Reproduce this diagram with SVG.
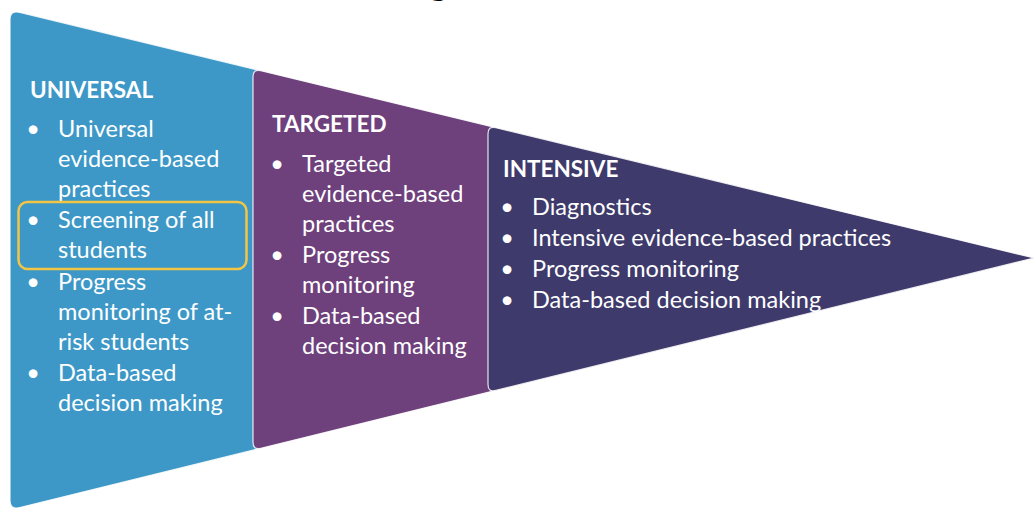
<svg xmlns="http://www.w3.org/2000/svg" width="1034" height="508" viewBox="0 0 1034 508">
<style>
.tier{stroke:#ffffff;stroke-width:1.2;stroke-opacity:0.85}
.blue{fill:#3D98C7}
.purple{fill:#6E417D}
.dark{fill:#3E3A6B}
text{font-family:Lato,"Open Sans","Liberation Sans",sans-serif;fill:#ffffff;font-size:23.5px}
.head{font-weight:bold;font-size:22.5px}
.bul{text-anchor:middle}
.title{fill:#000000;font-size:40px}
.hl{fill:none;stroke:#F2C644;stroke-width:2.5}
</style>
<rect width="1034" height="508" fill="#ffffff"/>
<text class="title" x="428" y="-6">g</text>
<g id="universal">
<path class="tier blue" d="M10,20 Q10,10 19.7,12.35 L262,71 L262,448 L19.8,507.6 Q10,510 10,500 Z"/>
<text class="head" x="30" y="98">UNIVERSAL</text>
<text class="bul" x="33" y="137">•</text>
<text x="58" y="137">Universal</text>
<text x="58" y="167">evidence-based</text>
<text x="58" y="197">practices</text>
<text class="bul" x="33" y="228">•</text>
<text x="58" y="228">Screening of all</text>
<text x="58" y="258">students</text>
<text class="bul" x="33" y="290">•</text>
<text x="58" y="290">Progress</text>
<text x="58" y="320">monitoring of at-</text>
<text x="58" y="350">risk students</text>
<text class="bul" x="33" y="381">•</text>
<text x="58" y="381">Data-based</text>
<text x="58" y="411">decision making</text>
</g>
<g id="targeted">
<path class="tier purple" d="M253,76.85 Q253,68.85 260.8,70.7 L497,127.95 L497,390.1 L260.8,448.3 Q253,450.2 253,442.2 Z"/>
<text class="head" x="272" y="132">TARGETED</text>
<text class="bul" x="277" y="172">•</text>
<text x="302" y="172">Targeted</text>
<text x="302" y="202">evidence-based</text>
<text x="302" y="232">practices</text>
<text class="bul" x="277" y="263">•</text>
<text x="302" y="263">Progress</text>
<text x="302" y="293">monitoring</text>
<text class="bul" x="277" y="324">•</text>
<text x="302" y="324">Data-based</text>
<text x="302" y="354">decision making</text>
</g>
<g id="intensive">
<path class="tier dark" d="M488,133.8 Q488,125.8 495.8,127.66 L1034,258 L495.8,390.4 Q488,392.4 488,384.4 Z"/>
<text class="head" x="503" y="177">INTENSIVE</text>
<text class="bul" x="507" y="215">•</text>
<text x="532" y="215">Diagnostics</text>
<text class="bul" x="507" y="246">•</text>
<text x="532" y="246">Intensive evidence-based practices</text>
<text class="bul" x="507" y="277">•</text>
<text x="532" y="277">Progress monitoring</text>
<text class="bul" x="507" y="308">•</text>
<text x="532" y="308">Data-based decision making</text>
</g>
<g id="connectors"></g>
<g id="highlight">
<rect class="hl" x="18.5" y="202" width="228" height="67" rx="9"/>
</g>
</svg>
